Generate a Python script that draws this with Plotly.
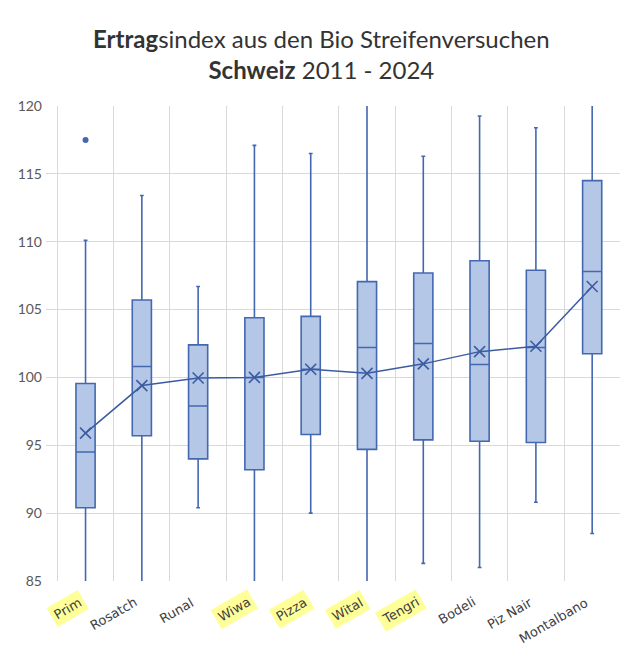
import plotly.graph_objects as go

# --- Data ---
sorten = ["Prim", "Rosatch", "Runal", "Wiwa", "Pizza", "Wital", "Tengri",
          "Bodeli", "Piz Nair", "Montalbano"]
highlight = [True, False, False, True, True, True, True, False, False, False]

q1 = [90.4, 95.7, 94.0, 93.2, 95.8, 94.7, 95.4, 95.3, 95.2, 101.75]
median = [94.5, 100.8, 97.9, 100.0, 100.6, 102.2, 102.5, 100.95, 102.2, 107.8]
q3 = [99.55, 105.7, 102.4, 104.4, 104.5, 107.06, 107.7, 108.6, 107.9, 114.5]
lower = [82.0, 82.5, 90.4, 82.0, 90.0, 82.0, 86.3, 86.0, 90.8, 88.5]
upper = [110.1, 113.4, 106.7, 117.1, 116.5, 121.5, 116.3, 119.26, 118.4, 121.5]
mittel = [95.9, 99.4, 99.96, 100.0, 100.6, 100.3, 101.0, 101.9, 102.3, 106.7]

ausreisser_x = ["Prim"]
ausreisser_y = [117.5]

y_ticks = [85, 90, 95, 100, 105, 110, 115, 120]

# --- Colours ---
box_line = "#4468B0"
box_fill = "#B4C7E7"
mean_col = "#3B5CA0"
grid_col = "#D9D9D9"
font_fam = "Lato, Open Sans, sans-serif"

fig = go.Figure()

fig.add_trace(go.Box(
    x=sorten, q1=q1, median=median, q3=q3,
    lowerfence=lower, upperfence=upper,
    boxpoints=False,
    fillcolor=box_fill,
    line=dict(color=box_line, width=1.6),
    whiskerwidth=0.2,
    width=0.34,
    showlegend=False,
    hoverinfo="skip",
))

# Mittelwert-Linie mit X-Markern
fig.add_trace(go.Scatter(
    x=sorten, y=mittel,
    mode="lines+markers",
    line=dict(color=mean_col, width=1.5),
    marker=dict(symbol="x-thin", size=11, line=dict(color=mean_col, width=1.6)),
    showlegend=False,
))

# Ausreisser
fig.add_trace(go.Scatter(
    x=ausreisser_x, y=ausreisser_y,
    mode="markers",
    marker=dict(symbol="circle", size=6, color=box_line),
    showlegend=False,
))

# x-Beschriftungen als gedrehte Annotationen (einige gelb markiert)
for name, hl in zip(sorten, highlight):
    fig.add_annotation(
        x=name, y=0, xref="x", yref="paper",
        text=name, showarrow=False,
        textangle=-30,
        xanchor="right", yanchor="top",
        xshift=4, yshift=-8,
        font=dict(family="DejaVu Sans, sans-serif", size=13, color="#404040"),
        bgcolor="#FFFF99" if hl else "rgba(0,0,0,0)",
        borderpad=3,
    )

fig.update_layout(
    width=628, height=660,
    margin=dict(l=38, r=5, t=98, b=87),
    paper_bgcolor="white",
    plot_bgcolor="white",
    showlegend=False,
    title=dict(
        text="<b>Ertrag</b>sindex aus den Bio Streifenversuchen<br><b>Schweiz</b> 2011 - 2024",
        x=0.499, xanchor="center",
        y=0.94, yanchor="top",
        font=dict(family=font_fam, size=24, color="#333333"),
    ),
)

fig.update_xaxes(
    type="category",
    tickson="boundaries",
    showgrid=True, gridcolor=grid_col, gridwidth=1,
    showticklabels=False,
    showline=False, zeroline=False,
    ticks="",
    automargin=False,
)
fig.update_yaxes(
    range=[85, 120],
    tickvals=y_ticks,
    showgrid=True, gridcolor=grid_col, gridwidth=1,
    tickfont=dict(family=font_fam, size=14, color="#595959"),
    ticklabelstandoff=3,
    zeroline=False, showline=False,
    automargin=False,
)

fig.write_html("out.html")
